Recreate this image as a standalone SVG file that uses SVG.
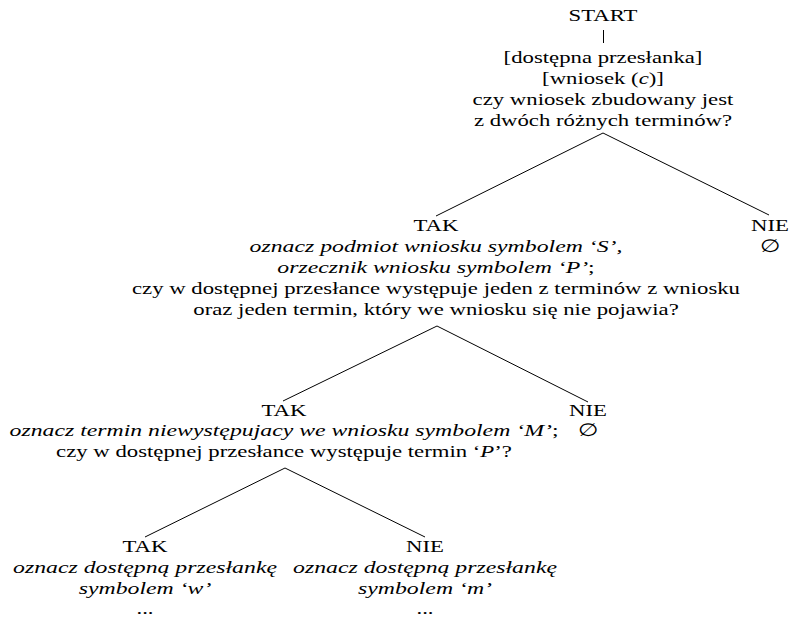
<svg xmlns="http://www.w3.org/2000/svg" width="789" height="620" viewBox="0 0 789 620">
<style>
text{font-family:"Liberation Serif","Times New Roman",serif;font-size:17.5px;fill:#000;text-anchor:middle}
.i{font-style:italic}
.c line{stroke:#000;stroke-width:1;fill:none}
</style>
<rect width="789" height="620" fill="#fff"/>
<g class="c" id="connectors">
<line x1="603" y1="133" x2="436" y2="216"/>
<line x1="603" y1="133" x2="769" y2="215"/>
<line x1="437" y1="326" x2="283" y2="401"/>
<line x1="437" y1="326" x2="588" y2="402"/>
<line x1="285" y1="468" x2="145" y2="537"/>
<line x1="285" y1="468" x2="425" y2="537"/>
</g>
<g id="root">
<line x1="603.5" y1="30" x2="603.5" y2="43" stroke="#000" stroke-width="1"/>
<g transform="translate(603,0) scale(1.3,1)">
<text x="0" y="21">START</text>
<text x="0" y="63">[dostępna przesłanka]</text>
<text x="0" y="84">[wniosek (<tspan class="i">c</tspan>)]</text>
<text x="0" y="105">czy wniosek zbudowany jest</text>
<text x="0" y="126">z dwóch różnych terminów?</text>
</g>
</g>
<g id="tak1" transform="translate(436,0) scale(1.3,1)">
<text x="0" y="231">TAK</text>
<text x="0" y="252" class="i" transform="scale(1.045,1)">oznacz podmiot wniosku symbolem ‘S’,</text>
<text x="0" y="273" transform="scale(1.045,1)"><tspan class="i">orzecznik wniosku symbolem ‘P’</tspan>;</text>
<text x="0" y="294">czy w dostępnej przesłance występuje jeden z terminów z wniosku</text>
<text x="0" y="315">oraz jeden termin, który we wniosku się nie pojawia?</text>
</g>
<g id="nie1" transform="translate(770,0) scale(1.3,1)">
<text x="0" y="231">NIE</text>
<text x="0" y="252">∅</text>
</g>
<g id="tak2" transform="translate(284,0) scale(1.3,1)">
<text x="0" y="416">TAK</text>
<text x="0" y="436" transform="scale(1.045,1)"><tspan class="i">oznacz termin niewystępujacy we wniosku symbolem ‘M’</tspan>;</text>
<text x="0" y="457">czy w dostępnej przesłance występuje termin ‘<tspan class="i">P</tspan>’?</text>
</g>
<g id="nie2" transform="translate(588,0) scale(1.3,1)">
<text x="0" y="416">NIE</text>
<text x="0" y="436">∅</text>
</g>
<g id="tak3" transform="translate(145,0) scale(1.3,1)">
<text x="0" y="552">TAK</text>
<text x="0" y="573" class="i" transform="scale(1.045,1)">oznacz dostępną przesłankę</text>
<text x="0" y="594" class="i" transform="scale(1.045,1)">symbolem ‘w’</text>
<text x="0" y="614">...</text>
</g>
<g id="nie3" transform="translate(425,0) scale(1.3,1)">
<text x="0" y="552">NIE</text>
<text x="0" y="573" class="i" transform="scale(1.045,1)">oznacz dostępną przesłankę</text>
<text x="0" y="594" class="i" transform="scale(1.045,1)">symbolem ‘m’</text>
<text x="0" y="614">...</text>
</g>
</svg>
